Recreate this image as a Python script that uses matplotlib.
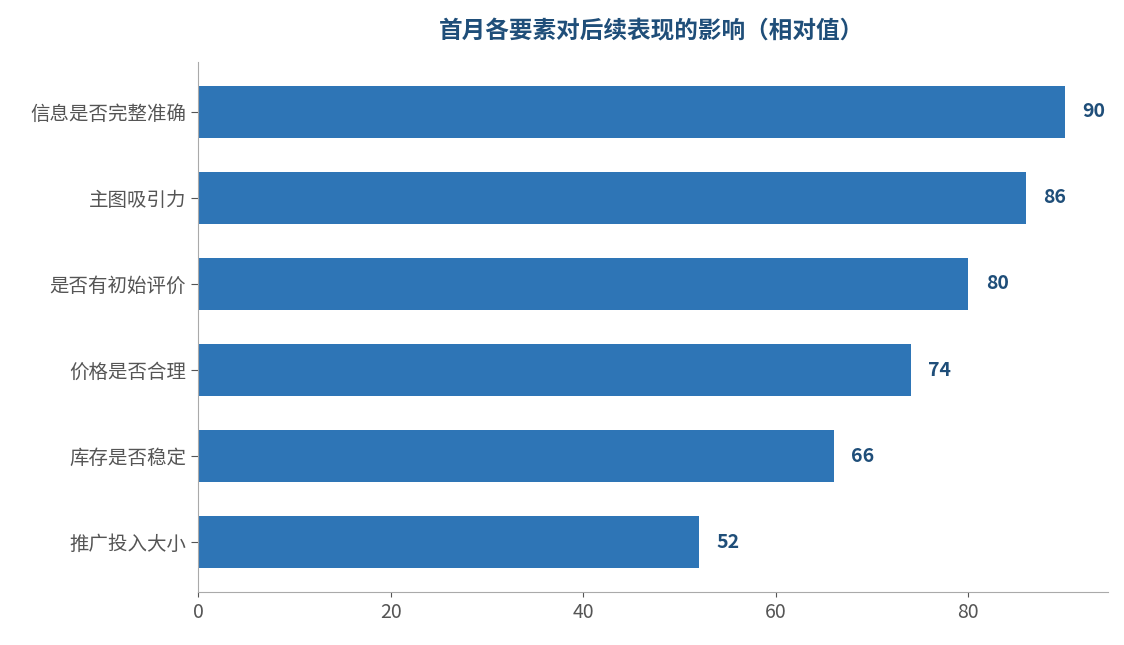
import matplotlib
matplotlib.use("Agg")
from matplotlib import pyplot as plt

plt.rcParams['font.family'] = ['Noto Sans CJK SC', 'DejaVu Sans']

categories = ['信息是否完整准确', '主图吸引力', '是否有初始评价', '价格是否合理', '库存是否稳定', '推广投入大小']
values = [90, 86, 80, 74, 66, 52]
xticks = [0, 20, 40, 60, 80]

fig = plt.figure(figsize=(11.24, 6.45), dpi=100)
ax = fig.add_axes([198/1124, 53/645, 910/1124, 530/645])

ypos = list(range(len(categories)))[::-1]
ax.barh(ypos, values, height=0.6, color='#2E75B6')
for y, v in zip(ypos, values):
    ax.text(v + 1.8, y, str(v), va='center', ha='left', fontsize=14,
            fontweight='bold', color='#1F4E79')

ax.set_yticks(ypos)
ax.set_yticklabels(categories)
ax.set_xticks(xticks)
ax.set_xlim(0, 94.5)
ax.set_ylim(-0.58, 5.58)
ax.tick_params(axis='both', labelsize=14, colors='#555555')
ax.tick_params(axis='y', length=5)
for s in ['top', 'right']:
    ax.spines[s].set_visible(False)
for s in ['left', 'bottom']:
    ax.spines[s].set_color('#aaaaaa')

fig.suptitle('首月各要素对后续表现的影响（相对值）', x=0.58, y=0.97,
             fontsize=17, fontweight='bold', color='#1F4E79')

fig.savefig('out.png')
